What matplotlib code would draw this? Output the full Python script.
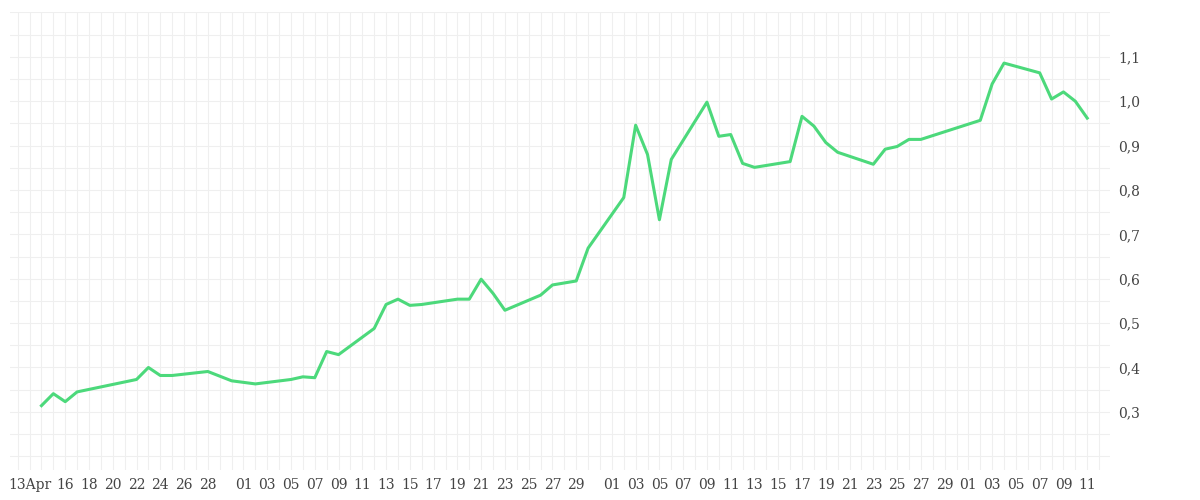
import matplotlib

matplotlib.use("Agg")
import matplotlib.pyplot as plt
import matplotlib.ticker as mticker
import pandas as pd

LINE = "#4cd97b"
GRID = "#efefef"

dates = [
    "04-14", "04-15", "04-16", "04-17", "04-22", "04-23", "04-24", "04-25", "04-28", "04-30",
    "05-02", "05-05", "05-06", "05-07", "05-08", "05-09", "05-12", "05-13", "05-14", "05-15",
    "05-16", "05-19", "05-20", "05-21", "05-22", "05-23", "05-26", "05-27", "05-29", "05-30",
    "06-02", "06-03", "06-04", "06-05", "06-06", "06-09", "06-10", "06-11", "06-12", "06-13",
    "06-16", "06-17", "06-18", "06-19", "06-20", "06-23", "06-24", "06-25", "06-26", "06-27",
    "07-02", "07-03", "07-04", "07-07", "07-08", "07-09", "07-10", "07-11",
]
values = [
    0.314, 0.341, 0.323, 0.345, 0.373, 0.400, 0.382, 0.382, 0.391, 0.370,
    0.363, 0.373, 0.379, 0.377, 0.436, 0.429, 0.488, 0.542, 0.554, 0.540,
    0.542, 0.554, 0.554, 0.599, 0.567, 0.529, 0.563, 0.586, 0.595, 0.669,
    0.783, 0.946, 0.880, 0.733, 0.869, 0.998, 0.921, 0.925, 0.860, 0.851,
    0.864, 0.966, 0.944, 0.907, 0.885, 0.858, 0.892, 0.898, 0.914, 0.914,
    0.957, 1.039, 1.086, 1.064, 1.005, 1.021, 1.000, 0.962,
]
y_ticks = [0.3, 0.4, 0.5, 0.6, 0.7, 0.8, 0.9, 1.0, 1.1]

x = pd.to_datetime(["2025-" + d for d in dates])

# x tick labels: "13Apr", then every other day, restarting on the 1st of each month
tick_dates = [pd.Timestamp("2025-04-13")] + list(pd.date_range("2025-04-16", "2025-04-28", freq="2D"))
for start, end in [("2025-05-01", "2025-05-29"), ("2025-06-01", "2025-06-29"), ("2025-07-01", "2025-07-11")]:
    tick_dates += list(pd.date_range(start, end, freq="2D"))
tick_labels = ["13Apr"] + [f"{d.day:02d}" for d in tick_dates[1:]]

fig = plt.figure(figsize=(12, 5), dpi=100)
ax = fig.add_axes([0.008, 0.06, 0.917, 0.915])
ax.plot(x, values, color=LINE, lw=2.2, zorder=3)

ax.set_xlim(pd.Timestamp("2025-04-11 07:40"), pd.Timestamp("2025-07-12 22:00"))
ax.set_ylim(0.169, 1.2)
ax.set_xticks(tick_dates)
ax.set_xticklabels(tick_labels, fontsize=10, color="#444", family="DejaVu Serif")
ax.xaxis.set_minor_locator(mticker.FixedLocator(
    [matplotlib.dates.date2num(d) for d in pd.date_range("2025-04-12", "2025-07-12", freq="D")]))
ax.yaxis.tick_right()
ax.set_yticks(y_ticks)
ax.set_yticklabels([f"{v:.1f}".replace(".", ",") for v in y_ticks], fontsize=10, color="#444", family="DejaVu Serif")
ax.yaxis.set_minor_locator(mticker.MultipleLocator(0.05))
ax.grid(which="both", color=GRID, lw=0.8, zorder=0)
ax.tick_params(which="both", length=0, pad=6)
for s in ax.spines.values():
    s.set_visible(False)

fig.savefig("out.png", dpi=100)
